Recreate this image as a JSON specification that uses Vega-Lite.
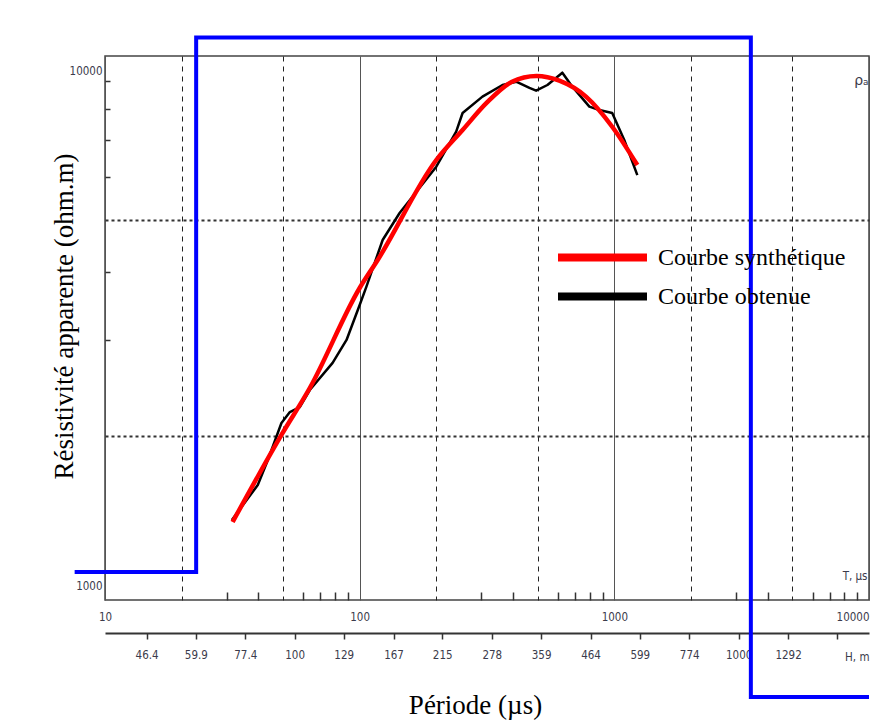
{
  "$schema": "https://vega.github.io/schema/vega-lite/v6.json",
  "width": 764,
  "height": 544,
  "autosize": "none",
  "padding": {"left": 105, "top": 56, "right": 18, "bottom": 122},
  "background": "white",
  "config": {
    "view": {"stroke": "#444", "strokeWidth": 1.5},
    "axis": {
      "labelFont": "DejaVu Sans Condensed, DejaVu Sans, sans-serif",
      "labelFontSize": 11.5,
      "labelColor": "#3b3b4b",
      "titleFont": "Liberation Serif",
      "titleFontSize": 27,
      "titleFontWeight": "normal",
      "titleColor": "#000000"
    },
    "legend": {
      "orient": "none",
      "legendX": 482,
      "legendY": 186,
      "padding": 0,
      "rowPadding": 6,
      "symbolType": "M-4,0H4",
      "symbolSize": 495,
      "symbolStrokeWidth": 8,
      "labelFont": "Liberation Serif",
      "labelFontSize": 24,
      "labelColor": "#000000",
      "labelOffset": 40,
      "labelLimit": 400
    }
  },
  "datasets": {
    "blue": [
      {"T": 7.6, "rho": 1126, "i": 0},
      {"T": 22.8, "rho": 1126, "i": 1},
      {"T": 22.8, "rho": 10814, "i": 2},
      {"T": 3436, "rho": 10814, "i": 3},
      {"T": 3436, "rho": 663, "i": 4},
      {"T": 10000, "rho": 663, "i": 5}
    ],
    "obtenue": [
      {"T": 31.5, "rho": 1403, "series": "Courbe obtenue"},
      {"T": 39.8, "rho": 1627, "series": "Courbe obtenue"},
      {"T": 43.6, "rho": 1809, "series": "Courbe obtenue"},
      {"T": 49.3, "rho": 2115, "series": "Courbe obtenue"},
      {"T": 53.2, "rho": 2216, "series": "Courbe obtenue"},
      {"T": 58.2, "rho": 2263, "series": "Courbe obtenue"},
      {"T": 63.7, "rho": 2432, "series": "Courbe obtenue"},
      {"T": 78.3, "rho": 2728, "series": "Courbe obtenue"},
      {"T": 88.8, "rho": 3006, "series": "Courbe obtenue"},
      {"T": 100, "rho": 3486, "series": "Courbe obtenue"},
      {"T": 106.3, "rho": 3768, "series": "Courbe obtenue"},
      {"T": 123.1, "rho": 4590, "series": "Courbe obtenue"},
      {"T": 143.5, "rho": 5145, "series": "Courbe obtenue"},
      {"T": 199.9, "rho": 6258, "series": "Courbe obtenue"},
      {"T": 239.3, "rho": 7258, "series": "Courbe obtenue"},
      {"T": 253.6, "rho": 7857, "series": "Courbe obtenue"},
      {"T": 303.5, "rho": 8420, "series": "Courbe obtenue"},
      {"T": 363.8, "rho": 8845, "series": "Courbe obtenue"},
      {"T": 411.7, "rho": 8970, "series": "Courbe obtenue"},
      {"T": 464.2, "rho": 8735, "series": "Courbe obtenue"},
      {"T": 493, "rho": 8635, "series": "Courbe obtenue"},
      {"T": 546, "rho": 8845, "series": "Courbe obtenue"},
      {"T": 625, "rho": 9318, "series": "Courbe obtenue"},
      {"T": 684, "rho": 8783, "series": "Courbe obtenue"},
      {"T": 798, "rho": 8070, "series": "Courbe obtenue"},
      {"T": 873, "rho": 7957, "series": "Courbe obtenue"},
      {"T": 981, "rho": 7857, "series": "Courbe obtenue"},
      {"T": 1094, "rho": 7009, "series": "Courbe obtenue"},
      {"T": 1231, "rho": 6041, "series": "Courbe obtenue"}
    ],
    "synthetique": [
      {"T": 31.7, "rho": 1391, "series": "Courbe synthétique"},
      {"T": 49.3, "rho": 2011, "series": "Courbe synthétique"},
      {"T": 63.7, "rho": 2453, "series": "Courbe synthétique"},
      {"T": 100, "rho": 3746, "series": "Courbe synthétique"},
      {"T": 117.7, "rho": 4217, "series": "Courbe synthétique"},
      {"T": 199.9, "rho": 6439, "series": "Courbe synthétique"},
      {"T": 253.6, "rho": 7311, "series": "Courbe synthétique"},
      {"T": 314.9, "rho": 8197, "series": "Courbe synthétique"},
      {"T": 394.5, "rho": 8958, "series": "Courbe synthétique"},
      {"T": 494.3, "rho": 9190, "series": "Courbe synthétique"},
      {"T": 608, "rho": 9008, "series": "Courbe synthétique"},
      {"T": 774, "rho": 8420, "series": "Courbe synthétique"},
      {"T": 981, "rho": 7413, "series": "Courbe synthétique"},
      {"T": 1231, "rho": 6303, "series": "Courbe synthétique"}
    ],
    "profondeur": [
      {"H": 46.4}, {"H": 59.9}, {"H": 77.4}, {"H": 100}, {"H": 129},
      {"H": 167}, {"H": 215}, {"H": 278}, {"H": 359}, {"H": 464},
      {"H": 599}, {"H": 774}, {"H": 1000}, {"H": 1292}, {"H": 1669}
    ]
  },
  "layer": [
    {
      "data": {"name": "blue"},
      "mark": {"type": "line", "color": "#0000ff", "strokeWidth": 4, "clip": false},
      "encoding": {
        "x": {
          "field": "T", "type": "quantitative",
          "scale": {"type": "log", "domain": [10, 10000], "nice": false},
          "axis": {
            "orient": "bottom",
            "values": [10, 100, 1000, 10000],
            "grid": true, "gridColor": "#555", "gridWidth": 1,
            "ticks": false, "domain": false,
            "labelPadding": 11,
            "labelExpr": "'' + datum.value",
            "labelAlign": {"condition": {"test": "datum.value >= 10000", "value": "right"}, "value": "center"},
            "title": "Période (µs)",
            "titleX": 370, "titleY": 105, "titleBaseline": "middle", "titleAlign": "center"
          }
        },
        "y": {
          "field": "rho", "type": "quantitative",
          "scale": {"type": "log", "domain": [1000, 10000], "nice": false},
          "axis": {
            "orient": "left",
            "values": [1000, 10000],
            "grid": false, "ticks": false, "domain": false,
            "labelFlush": true, "labelFlushOffset": -9,
            "labelPadding": 3,
            "labelExpr": "'' + datum.value",
            "title": "Résistivité apparente (ohm.m)",
            "titleX": -41, "titleY": 260, "titleBaseline": "middle", "titleAlign": "center", "titleAngle": -90
          }
        },
        "order": {"field": "i", "type": "quantitative"}
      }
    },
    {
      "data": {"name": "obtenue"},
      "mark": {"type": "line", "strokeWidth": 2.5, "strokeJoin": "round"},
      "encoding": {
        "x": {
          "field": "T", "type": "quantitative",
          "scale": {"type": "log", "domain": [10, 10000], "nice": false},
          "axis": {
            "orient": "bottom",
            "values": [20, 50, 200, 500, 2000, 5000],
            "grid": true, "gridDash": [5, 5], "gridColor": "#222", "gridWidth": 1,
            "labels": false, "ticks": false, "domain": false,
            "title": "T, µs",
            "titleX": 762, "titleY": -24, "titleAlign": "right", "titleBaseline": "middle",
            "titleFont": "DejaVu Sans Condensed, DejaVu Sans, sans-serif", "titleFontSize": 11.5, "titleColor": "#3b3b4b"
          }
        },
        "y": {
          "field": "rho", "type": "quantitative",
          "scale": {"type": "log", "domain": [1000, 10000], "nice": false},
          "axis": {
            "orient": "left",
            "values": [2000, 5000],
            "grid": true, "gridDash": [3, 3], "gridColor": "#333", "gridWidth": 2,
            "labels": false, "ticks": false, "domain": false,
            "title": "ρₐ",
            "titleAngle": 0, "titleX": 763, "titleY": 24, "titleAlign": "right", "titleBaseline": "middle",
            "titleFont": "DejaVu Sans", "titleFontSize": 14, "titleColor": "#3b3b4b"
          }
        },
        "color": {
          "field": "series", "type": "nominal",
          "scale": {"domain": ["Courbe synthétique", "Courbe obtenue"], "range": ["#ff0000", "#000000"]},
          "legend": {"title": null}
        }
      }
    },
    {
      "data": {"name": "synthetique"},
      "mark": {"type": "line", "strokeWidth": 4.5, "strokeJoin": "round", "interpolate": "monotone"},
      "encoding": {
        "x": {
          "field": "T", "type": "quantitative",
          "scale": {"type": "log", "domain": [10, 10000], "nice": false},
          "axis": {
            "orient": "bottom",
            "values": [30, 40, 60, 70, 80, 90, 300, 400, 600, 700, 800, 900, 3000, 4000, 6000, 7000, 8000, 9000],
            "grid": false, "labels": false, "domain": false,
            "ticks": true, "tickSize": -8, "tickColor": "#333", "tickWidth": 1.5,
            "title": null
          }
        },
        "y": {
          "field": "rho", "type": "quantitative",
          "scale": {"type": "log", "domain": [1000, 10000], "nice": false},
          "axis": {
            "orient": "left",
            "values": [3000, 4000, 6000, 7000, 8000, 9000],
            "grid": false, "labels": false, "domain": false,
            "ticks": true, "tickSize": -5, "tickColor": "#333", "tickWidth": 1.5,
            "title": null
          }
        },
        "color": {
          "field": "series", "type": "nominal",
          "scale": {"domain": ["Courbe synthétique", "Courbe obtenue"], "range": ["#ff0000", "#000000"]},
          "legend": {"title": null}
        }
      }
    },
    {
      "data": {"name": "profondeur"},
      "mark": {"type": "rule", "opacity": 0},
      "encoding": {
        "x": {
          "field": "H", "type": "quantitative",
          "scale": {"type": "log", "domain": [37.4, 1966], "nice": false},
          "axis": {
            "orient": "bottom",
            "offset": 33,
            "values": [46.4, 59.9, 77.4, 100, 129, 167, 215, 278, 359, 464, 599, 774, 1000, 1292, 1669],
            "grid": false,
            "domain": true, "domainColor": "#333", "domainWidth": 2,
            "ticks": true, "tickSize": 6, "tickColor": "#333", "tickWidth": 1.5,
            "labelPadding": 10,
            "labelExpr": "datum.value > 1500 ? '' : '' + datum.value",
            "title": "H, m",
            "titleX": 764, "titleY": 24, "titleAlign": "right", "titleBaseline": "middle",
            "titleFont": "DejaVu Sans Condensed, DejaVu Sans, sans-serif", "titleFontSize": 11.5, "titleColor": "#3b3b4b"
          }
        }
      }
    }
  ],
  "resolve": {
    "scale": {"x": "independent"},
    "axis": {"x": "independent", "y": "independent"}
  }
}
